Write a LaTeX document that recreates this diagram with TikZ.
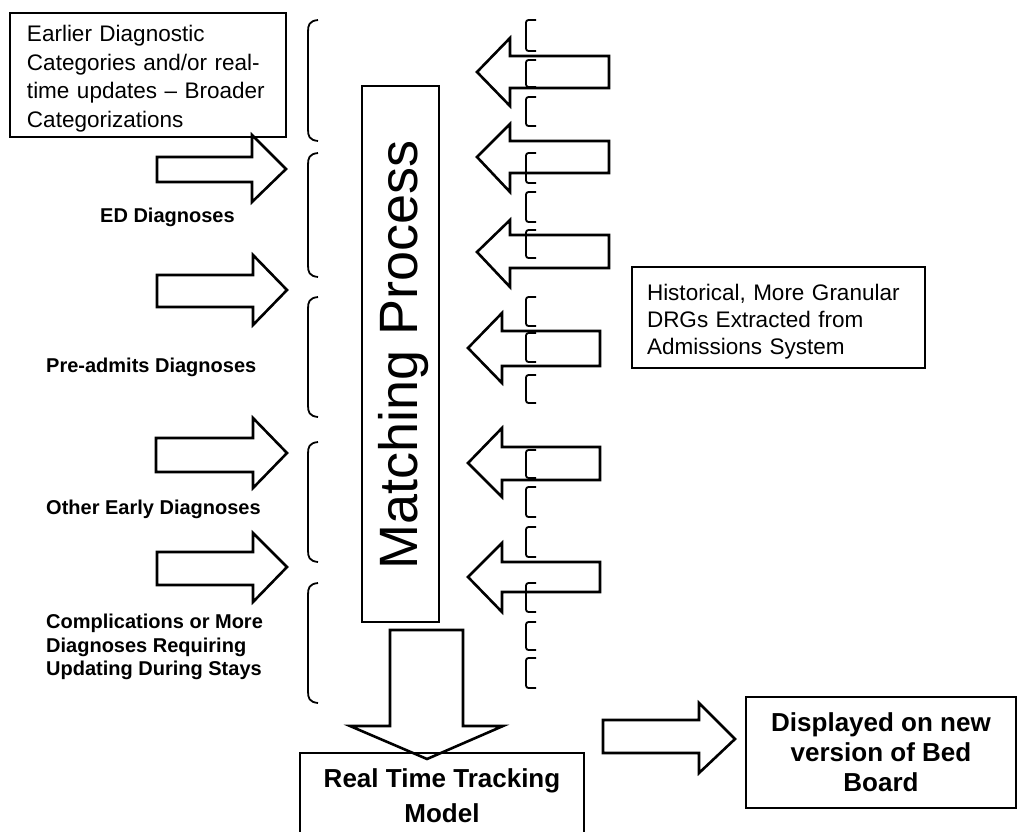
\documentclass[tikz,border=0pt]{standalone}
\usepackage{fontspec}
\setmainfont{Liberation Sans}
\begin{document}
\begin{tikzpicture}[x=1pt,y=-1pt,
  box/.style={draw, line width=2.4pt, inner sep=0pt},
  barrow/.style={draw, line width=2.6pt, line join=miter},
  brc/.style={line width=1.8pt},
  brk/.style={line width=1.8pt, rounded corners=2.5pt},
  lbl/.style={font=\bfseries\fontsize{20}{23.5}\selectfont, inner sep=0pt, align=left},
  boxtxt/.style={font=\fontsize{22.5}{28.5}\selectfont, align=left}]
\useasboundingbox (0,0) rectangle (1020,831);
\clip (0,0) rectangle (1020,831);

% boxes
\node[box, boxtxt, minimum width=276pt, minimum height=124pt, text width=242pt] (earlier) at (148,75)
  {\rule{0pt}{24pt}Earlier Diagnostic\\Categories and/or real-\\time updates – Broader\\Categorizations};
\node[box, boxtxt, font=\fontsize{22.5}{27}\selectfont, minimum width=293pt, minimum height=101pt, text width=263pt] (hist) at (778.5,317.5)
  {\rule{0pt}{24pt}Historical, More Granular\\DRGs Extracted from\\Admissions System};
\node[box, minimum width=77pt, minimum height=536pt] (match) at (400.5,354) {};
\node[rotate=90, anchor=base, inner sep=0pt, font=\fontsize{54}{60}\selectfont] (mtext) at (417,355) {Matching Process};
\node[box, minimum width=284pt, minimum height=85pt, align=center, font=\bfseries\fontsize{26}{35}\selectfont] (rtt) at (442,795.5)
  {Real Time Tracking\\Model};
\node[box, minimum width=270pt, minimum height=111pt, align=center, font=\bfseries\fontsize{26}{30}\selectfont] (disp) at (881,752.5)
  {Displayed on new\\version of Bed\\Board};

% left labels
\node[lbl, anchor=base west] (ed) at (100,222) {ED Diagnoses};
\node[lbl, anchor=base west] (pre) at (46,372) {Pre-admits Diagnoses};
\node[lbl, anchor=base west] (other) at (46,514) {Other Early Diagnoses};
\node[lbl, anchor=north west] (comp) at (46,614) {Complications or More\\Diagnoses Requiring\\Updating During Stays};

% left block arrows (pointing right)
\draw[barrow] (157,157) -- (252,157) -- (252,135) -- (286,169) -- (252,202) -- (252,182) -- (157,182) -- cycle;
\draw[barrow] (157,275) -- (253,275) -- (253,255) -- (287,290) -- (253,325) -- (253,307) -- (157,307) -- cycle;
\draw[barrow] (156,438) -- (253,438) -- (253,418) -- (287,453) -- (253,488) -- (253,472) -- (156,472) -- cycle;
\draw[barrow] (157,552) -- (253,552) -- (253,533) -- (287,567) -- (253,602) -- (253,585) -- (157,585) -- cycle;

% right block arrows (pointing left)
\draw[barrow] (609,56) -- (510,56) -- (510,38) -- (477,72) -- (510,106) -- (510,88) -- (609,88) -- cycle;
\draw[barrow] (609,141) -- (510,141) -- (510,124) -- (477,157) -- (510,192) -- (510,173) -- (609,173) -- cycle;
\draw[barrow] (609,235) -- (510,235) -- (510,220) -- (477,252) -- (510,287) -- (510,268) -- (609,268) -- cycle;
\draw[barrow] (600,331) -- (502,331) -- (502,313) -- (468,348) -- (502,383) -- (502,366) -- (600,366) -- cycle;
\draw[barrow] (600,447) -- (502,447) -- (502,428) -- (468,463) -- (502,497) -- (502,480) -- (600,480) -- cycle;
\draw[barrow] (600,562) -- (502,562) -- (502,543) -- (468,577) -- (502,612) -- (502,592) -- (600,592) -- cycle;

% down arrow to tracking model
\draw[barrow] (390,630) -- (463,630) -- (463,726) -- (503,726) -- (427,759) -- (350,726) -- (390,726) -- cycle;
% arrow to bed board
\draw[barrow] (603,720) -- (699,720) -- (699,703) -- (735,739) -- (699,773) -- (699,753) -- (603,753) -- cycle;

% left braces
\foreach \a/\b in {20/141, 153/277, 297/417, 442/562, 583/703}{
  \draw[brc] (318,\a) .. controls (309,\a+1) and (308,\a+5) .. (308,\a+12)
    -- (308,\b-12) .. controls (308,\b-5) and (309,\b-1) .. (318,\b);
}
% right small brackets
\foreach \a/\b in {20/51, 60/87, 97/126, 153/183, 192/222, 230/258, 297/326, 333/362, 375/403, 450/478, 487/517, 527/557, 583/612, 622/650, 658/688}{
  \draw[brk] (536,\a) -- (526,\a) -- (526,\b) -- (536,\b);
}
\end{tikzpicture}
\end{document}
